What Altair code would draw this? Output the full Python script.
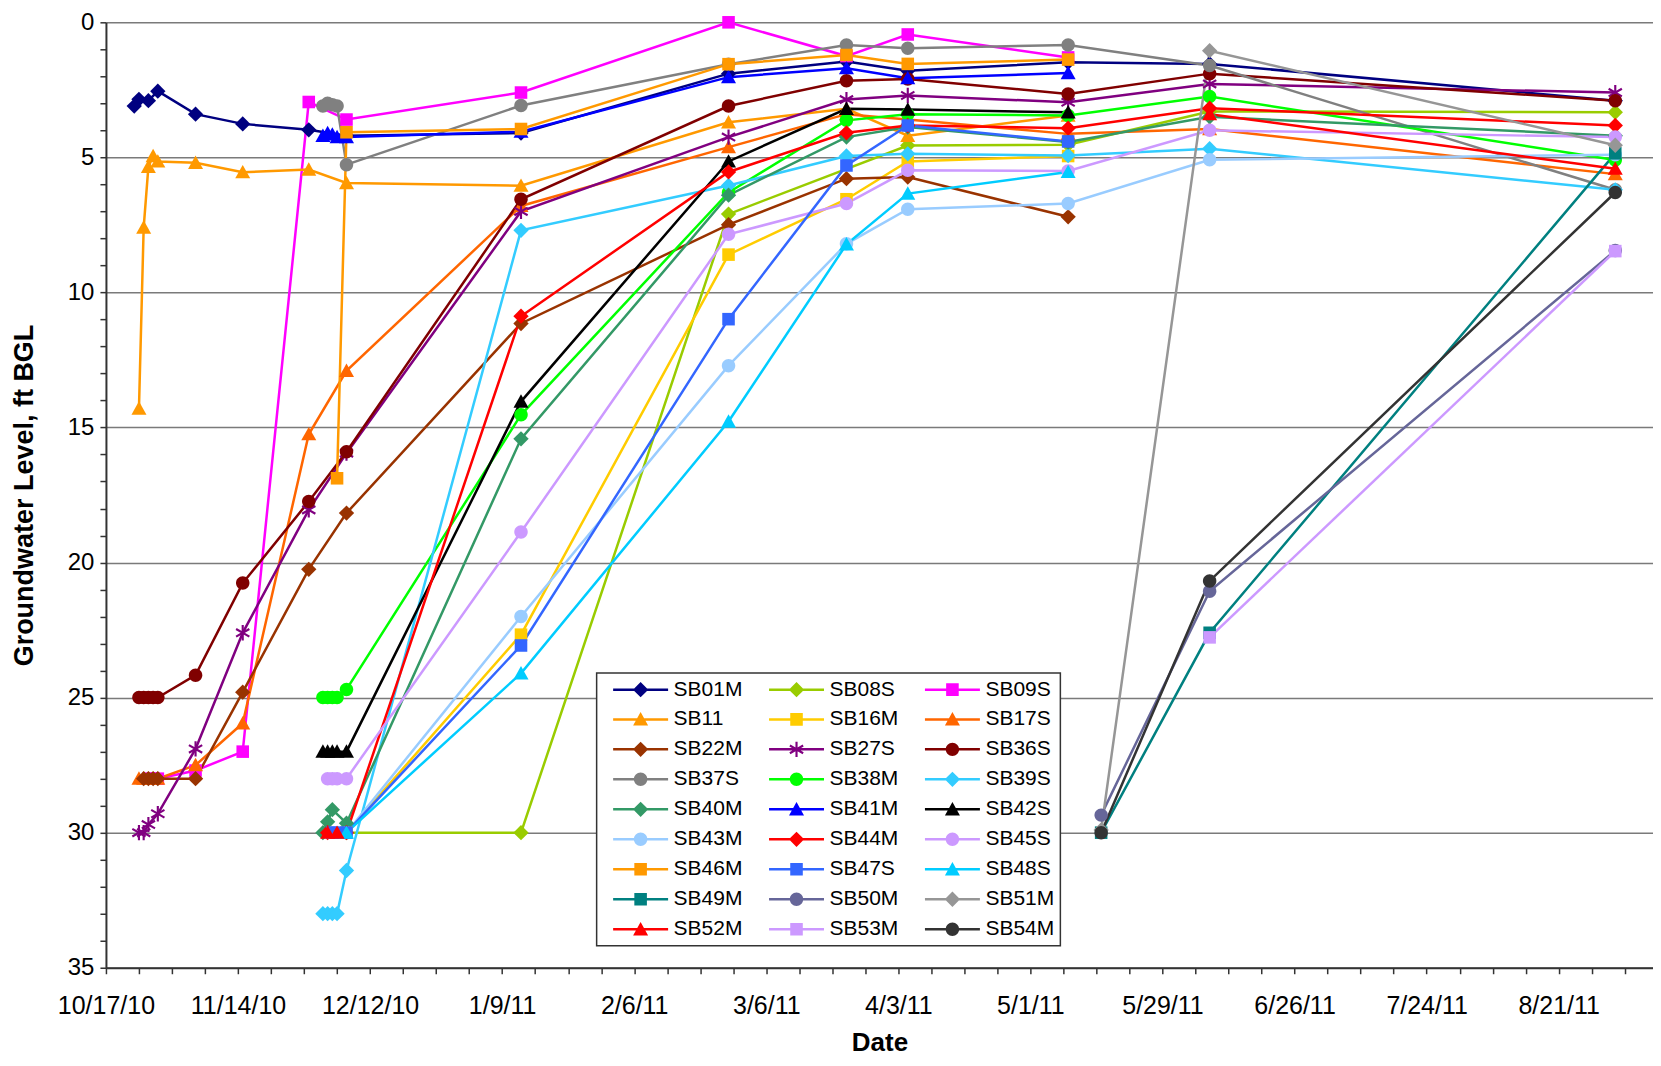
import json
import math
import altair as alt
import pandas as pd

FONT = "Liberation Sans"
START = "10/17/10"
X_TICK_LABELS = ["10/17/10", "11/14/10", "12/12/10", "1/9/11", "2/6/11", "3/6/11",
                 "4/3/11", "5/1/11", "5/29/11", "6/26/11", "7/24/11", "8/21/11"]

# ---- series data: (date, groundwater level ft BGL); None = gap in the line ----
SB01M = [("10/23/10", 3.1), ("10/24/10", 2.85), ("10/26/10", 2.9), ("10/28/10", 2.55),
         ("11/5/10", 3.4), ("11/15/10", 3.76), ("11/29/10", 3.98), ("12/7/10", 4.2),
         ("1/13/11", 4.1), ("2/26/11", 1.9), ("3/23/11", 1.45), ("4/5/11", 1.79),
         ("5/9/11", 1.48), ("6/8/11", 1.54), ("9/2/11", 2.9)]
SB08S = [("12/7/10", 30.0), ("1/13/11", 30.0), ("2/26/11", 7.1), ("4/5/11", 4.56),
         ("5/9/11", 4.53), ("6/8/11", 3.3), ("9/2/11", 3.33)]
SB09S = [("10/26/10", 28.0), ("10/27/10", 28.0), ("10/28/10", 28.0), ("11/5/10", 27.7),
         ("11/15/10", 27.0), ("11/29/10", 2.95), ("12/7/10", 3.6), ("1/13/11", 2.6),
         ("2/26/11", 0.0), ("3/23/11", 1.25), ("4/5/11", 0.45), ("5/9/11", 1.3)]
SB11 = [("10/24/10", 14.3), ("10/25/10", 7.6), ("10/26/10", 5.35), ("10/27/10", 4.95),
        ("10/28/10", 5.15), ("11/5/10", 5.2), ("11/15/10", 5.55), ("11/29/10", 5.45),
        ("12/7/10", 5.95), ("1/13/11", 6.05), ("2/26/11", 3.7), ("3/23/11", 3.2),
        ("4/5/11", 4.2), ("5/9/11", 3.45)]
SB16M = [("12/7/10", 30.0), ("1/13/11", 22.67), ("2/26/11", 8.6), ("3/23/11", 6.55),
         ("4/5/11", 5.15), ("5/9/11", 4.95)]
SB17S = [("10/24/10", 28.0), ("10/25/10", 28.0), ("10/26/10", 28.0), ("10/27/10", 28.0),
         ("10/28/10", 28.0), ("11/5/10", 27.5), ("11/15/10", 25.95), ("11/29/10", 15.25),
         ("12/7/10", 12.9), ("1/13/11", 6.8), ("2/26/11", 4.62), ("3/23/11", 3.4),
         ("4/5/11", 3.6), ("5/9/11", 4.13), ("6/8/11", 3.95), ("9/2/11", 5.62)]
SB22M = [("10/25/10", 28.0), ("10/26/10", 28.0), ("10/27/10", 28.0), ("10/28/10", 28.0),
         ("11/5/10", 28.0), ("11/15/10", 24.8), ("11/29/10", 20.25), ("12/7/10", 18.17),
         ("1/13/11", 11.15), ("2/26/11", 7.49), ("3/23/11", 5.79), ("4/5/11", 5.73),
         ("5/9/11", 7.2)]
SB27S = [("10/24/10", 30.0), ("10/25/10", 30.0), ("10/26/10", 29.7), ("10/28/10", 29.3),
         ("11/5/10", 26.9), ("11/15/10", 22.6), ("11/29/10", 18.05), ("12/7/10", 15.95),
         ("1/13/11", 7.0), ("2/26/11", 4.25), ("3/23/11", 2.86), ("4/5/11", 2.71),
         ("5/9/11", 2.96), ("6/8/11", 2.28), ("9/2/11", 2.6)]
SB36S = [("10/24/10", 25.0), ("10/25/10", 25.0), ("10/26/10", 25.0), ("10/27/10", 25.0),
         ("10/28/10", 25.0), ("11/5/10", 24.17), ("11/15/10", 20.76), ("11/29/10", 17.74),
         ("12/7/10", 15.9), ("1/13/11", 6.55), ("2/26/11", 3.1), ("3/23/11", 2.16),
         ("4/5/11", 2.1), ("5/9/11", 2.65), ("6/8/11", 1.9), ("9/2/11", 2.9)]
SB37S = [("12/2/10", 3.1), ("12/3/10", 3.0), ("12/4/10", 3.05), ("12/5/10", 3.1),
         ("12/7/10", 5.27), ("1/13/11", 3.08), ("2/26/11", 1.55), ("3/23/11", 0.84),
         ("4/5/11", 0.96), ("5/9/11", 0.84), ("6/8/11", 1.6), ("9/2/11", 6.2)]
SB38M = [("12/2/10", 25.0), ("12/3/10", 25.0), ("12/4/10", 25.0), ("12/5/10", 25.0),
         ("12/7/10", 24.7), ("1/13/11", 14.53), ("2/26/11", 6.3), ("3/23/11", 3.63),
         ("4/5/11", 3.4), ("5/9/11", 3.45), ("6/8/11", 2.75), ("9/2/11", 5.1)]
SB39S = [("12/2/10", 33.0), ("12/3/10", 33.0), ("12/4/10", 33.0), ("12/5/10", 33.0),
         ("12/7/10", 31.4), ("1/13/11", 7.7), ("2/26/11", 6.04), ("3/23/11", 4.95),
         ("4/5/11", 4.87), ("5/9/11", 4.93), ("6/8/11", 4.68), ("9/2/11", 6.2)]
SB40M = [("12/2/10", 30.0), ("12/3/10", 29.6), ("12/4/10", 29.15), ("12/7/10", 29.65),
         ("1/13/11", 15.42), ("2/26/11", 6.4), ("3/23/11", 4.25), ("4/5/11", 3.88),
         ("5/9/11", 4.43), ("6/8/11", 3.5), ("9/2/11", 4.2)]
SB41M = [("12/2/10", 4.2), ("12/3/10", 4.1), ("12/4/10", 4.15), ("12/5/10", 4.25),
         ("12/7/10", 4.25), ("1/13/11", 4.05), ("2/26/11", 2.03), ("3/23/11", 1.7),
         ("4/5/11", 2.07), ("5/9/11", 1.88)]
SB42S = [("12/2/10", 27.0), ("12/3/10", 27.0), ("12/4/10", 27.0), ("12/5/10", 27.0),
         ("12/7/10", 27.0), ("1/13/11", 14.04), ("2/26/11", 5.15), ("3/23/11", 3.2),
         ("4/5/11", 3.23), ("5/9/11", 3.33)]
SB43M = [("12/7/10", 30.0), ("1/13/11", 22.0), ("2/26/11", 12.71), ("3/23/11", 8.2),
         ("4/5/11", 6.92), ("5/9/11", 6.71), ("6/8/11", 5.09), ("9/2/11", 4.9)]
SB44M = [("12/3/10", 30.0), ("12/7/10", 30.0), ("1/13/11", 10.88), ("2/26/11", 5.54),
         ("3/23/11", 4.09), ("4/5/11", 3.82), ("5/9/11", 3.92), ("6/8/11", 3.18),
         ("9/2/11", 3.82)]
SB45S = [("12/3/10", 28.0), ("12/4/10", 28.0), ("12/5/10", 28.0), ("12/7/10", 28.0),
         ("1/13/11", 18.87), ("2/26/11", 7.85), ("3/23/11", 6.71), ("4/5/11", 5.48),
         ("5/9/11", 5.5), ("6/8/11", 4.0), ("9/2/11", 4.25)]
SB46M = [("12/5/10", 16.88), ("12/7/10", 4.07), ("1/13/11", 3.95), ("2/26/11", 1.55),
         ("3/23/11", 1.21), ("4/5/11", 1.54), ("5/9/11", 1.38)]
SB47S = [("12/4/10", 30.0), ("12/5/10", 30.0), ("12/7/10", 30.0), ("1/13/11", 23.07),
         ("2/26/11", 10.99), ("3/23/11", 5.3), ("4/5/11", 3.82), ("5/9/11", 4.41)]
SB48S = [("12/7/10", 30.0), ("1/13/11", 24.1), ("2/26/11", 14.78), ("3/23/11", 8.22),
         ("4/5/11", 6.34), ("5/9/11", 5.54)]
SB49M = [("5/16/11", 30.0), ("6/8/11", 22.6), ("9/2/11", 4.85)]
SB50M = [("5/16/11", 29.35), ("6/8/11", 21.06), ("9/2/11", 8.45)]
SB51M = [("5/16/11", 29.9), ("6/8/11", 1.05), ("9/2/11", 4.55)]
SB52M = [("12/3/10", 30.0), ("12/5/10", 30.0), None, ("6/8/11", 3.4), ("9/2/11", 5.42)]
SB53M = [("6/8/11", 22.77), ("9/2/11", 8.47)]
SB54M = [("5/16/11", 30.0), ("6/8/11", 20.68), ("9/2/11", 6.3)]

SERIES = ["SB01M", "SB08S", "SB09S", "SB11", "SB16M", "SB17S", "SB22M", "SB27S", "SB36S",
          "SB37S", "SB38M", "SB39S", "SB40M", "SB41M", "SB42S", "SB43M", "SB44M", "SB45S",
          "SB46M", "SB47S", "SB48S", "SB49M", "SB50M", "SB51M", "SB52M", "SB53M", "SB54M"]
SERIES_DATA = [SB01M, SB08S, SB09S, SB11, SB16M, SB17S, SB22M, SB27S, SB36S,
               SB37S, SB38M, SB39S, SB40M, SB41M, SB42S, SB43M, SB44M, SB45S,
               SB46M, SB47S, SB48S, SB49M, SB50M, SB51M, SB52M, SB53M, SB54M]
COLORS = ["#000080", "#99CC00", "#FF00FF", "#FF9900", "#FFCC00", "#FF6600", "#993300",
          "#800080", "#800000", "#808080", "#00FF00", "#33CCFF", "#339966", "#0000FF",
          "#000000", "#99CCFF", "#FF0000", "#CC99FF", "#FF9900", "#3366FF", "#00CCFF",
          "#008080", "#666699", "#969696", "#FF0000", "#CC99FF", "#333333"]
MARKERS = ["diamond", "diamond", "square", "triangle", "square", "triangle", "diamond",
           "asterisk", "circle", "circle", "circle", "diamond", "diamond", "triangle",
           "triangle", "circle", "diamond", "circle", "square", "square", "triangle",
           "square", "circle", "diamond", "triangle", "square", "circle"]

# ---- build table ----
t0 = pd.to_datetime(START, format="%m/%d/%y")
rows = []
for name, pts in zip(SERIES, SERIES_DATA):
    seg = 0
    for p in pts:
        if p is None:
            seg += 1
            continue
        d, v = p
        day = (pd.to_datetime(d, format="%m/%d/%y") - t0).days
        rows.append({"series": name, "seg": f"{name}_{seg}", "day": day, "level": v})
df = pd.DataFrame(rows)


# ---- marker paths (unit coordinates, scaled by Vega to the symbol size) ----
def orient(poly):
    a = sum(poly[i][0] * poly[(i + 1) % len(poly)][1] - poly[(i + 1) % len(poly)][0] * poly[i][1]
            for i in range(len(poly)))
    return poly if a > 0 else poly[::-1]


def poly_path(poly, dx=0.0):
    poly = orient(poly)
    return "M" + "L".join(f"{x + dx:.3f},{y:.3f}" for x, y in poly) + "Z"


def bar(theta_deg, w):
    th = math.radians(theta_deg)
    ex, ey = math.cos(th), math.sin(th)
    px, py = -ey * w, ex * w
    return [(ex + px, ey + py), (-ex + px, -ey + py), (-ex - px, -ey - py), (ex - px, ey - py)]


def marker_path(kind, dx=0.0):
    if kind == "diamond":
        return poly_path([(0, -1.0), (1.0, 0), (0, 1.0), (-1.0, 0)], dx)
    if kind == "square":
        return poly_path([(-0.82, -0.82), (0.82, -0.82), (0.82, 0.82), (-0.82, 0.82)], dx)
    if kind == "triangle":
        return poly_path([(0, -0.95), (0.98, 0.8), (-0.98, 0.8)], dx)
    if kind == "circle":
        r = 0.88
        return (f"M{r + dx:.3f},0A{r},{r},0,1,1,{-r + dx:.3f},0"
                f"A{r},{r},0,1,1,{r + dx:.3f},0Z")
    if kind == "asterisk":
        return "".join(poly_path(bar(a, 0.14), dx) for a in (90, 30, 150))
    raise ValueError(kind)


SIZE = 235
R = math.sqrt(SIZE) / 2
HALF_LINE = 27.5 / R
LINE_T = 1.25 / R
plot_shapes = [marker_path(k) for k in MARKERS]
legend_shapes = [marker_path(k, HALF_LINE) +
                 poly_path([(0, -LINE_T), (2 * HALF_LINE, -LINE_T),
                            (2 * HALF_LINE, LINE_T), (0, LINE_T)])
                 for k in MARKERS]

x_label_expr = (f"datum.value % 28 === 0 ? {json.dumps(X_TICK_LABELS)}[datum.value / 28] : ''")

x_enc = alt.X(
    "day:Q",
    scale=alt.Scale(domain=[0, 328], nice=False, zero=False),
    axis=alt.Axis(
        values=list(range(0, 323, 7)), labelExpr=x_label_expr, labelOverlap=False,
        labelFlush=False, grid=False, title="Date", tickSize=6, tickWidth=1.5,
        tickColor="#333333", domainColor="#333333", domainWidth=2,
        labelFont=FONT, labelFontSize=25, labelColor="black", labelPadding=20,
        titleFont=FONT, titleFontSize=26, titleFontWeight="bold", titleColor="black",
        titlePadding=11,
    ),
)
y_enc = alt.Y(
    "level:Q",
    scale=alt.Scale(domain=[0, 35], reverse=True, nice=False, zero=False),
    axis=alt.Axis(
        values=list(range(0, 36)), labelExpr="datum.value % 5 === 0 ? datum.label : ''",
        labelOverlap=False, grid=True, gridColor="#7a7a7a", gridWidth=1.5,
        gridOpacity={"condition": {"test": "datum.value % 5 === 0", "value": 1}, "value": 0},
        title="Groundwater Level, ft BGL", tickSize=6, tickWidth=1.5, tickColor="#333333",
        domainColor="#333333", domainWidth=2, labelFont=FONT, labelFontSize=24,
        labelColor="black", labelPadding=6, titleFont=FONT, titleFontSize=27,
        titleFontWeight="bold", titleColor="black", titlePadding=29,
    ),
)

color_scale = alt.Scale(domain=SERIES, range=COLORS)

lines = alt.Chart(df).mark_line(strokeWidth=2.5).encode(
    x=x_enc, y=y_enc,
    color=alt.Color("series:N", scale=color_scale, legend=None),
    detail="seg:N",
)

points = alt.Chart(df).mark_point(filled=True, opacity=1, size=SIZE, strokeWidth=0).encode(
    x=x_enc, y=y_enc,
    color=alt.Color("series:N", scale=color_scale, legend=None),
    shape=alt.Shape("series:N", scale=alt.Scale(domain=SERIES, range=plot_shapes), legend=None),
)

leg = alt.Legend(
    orient="none", legendX=491, legendY=651, columns=3, direction="horizontal", title=None,
    labelFont=FONT, labelFontSize=21, labelColor="black", labelOffset=50, labelLimit=0,
    symbolSize=SIZE, symbolStrokeWidth=0, symbolOpacity=1, rowPadding=8,
    columnPadding=16, padding=6, strokeColor="#333333", fillColor="white",
)

legend_layer = alt.Chart(df).transform_filter("false").mark_point(
    filled=True, opacity=1, size=SIZE, strokeWidth=0
).encode(
    x=x_enc, y=y_enc,
    color=alt.Color("series:N", scale=color_scale, legend=leg),
    shape=alt.Shape("series:N", scale=alt.Scale(domain=SERIES, range=legend_shapes), legend=leg),
)

chart = alt.layer(lines, points, legend_layer).resolve_scale(
    color="independent", shape="independent"
).properties(
    width=1548, height=946,
    padding={"left": 98, "top": 14, "right": 0, "bottom": 89},
    autosize=alt.AutoSizeParams(type="none"),
    background="white",
).configure_view(stroke=None).configure_legend(strokeWidth=1.5)

chart.save("out.html", embed_options={"renderer": "svg", "actions": False})
